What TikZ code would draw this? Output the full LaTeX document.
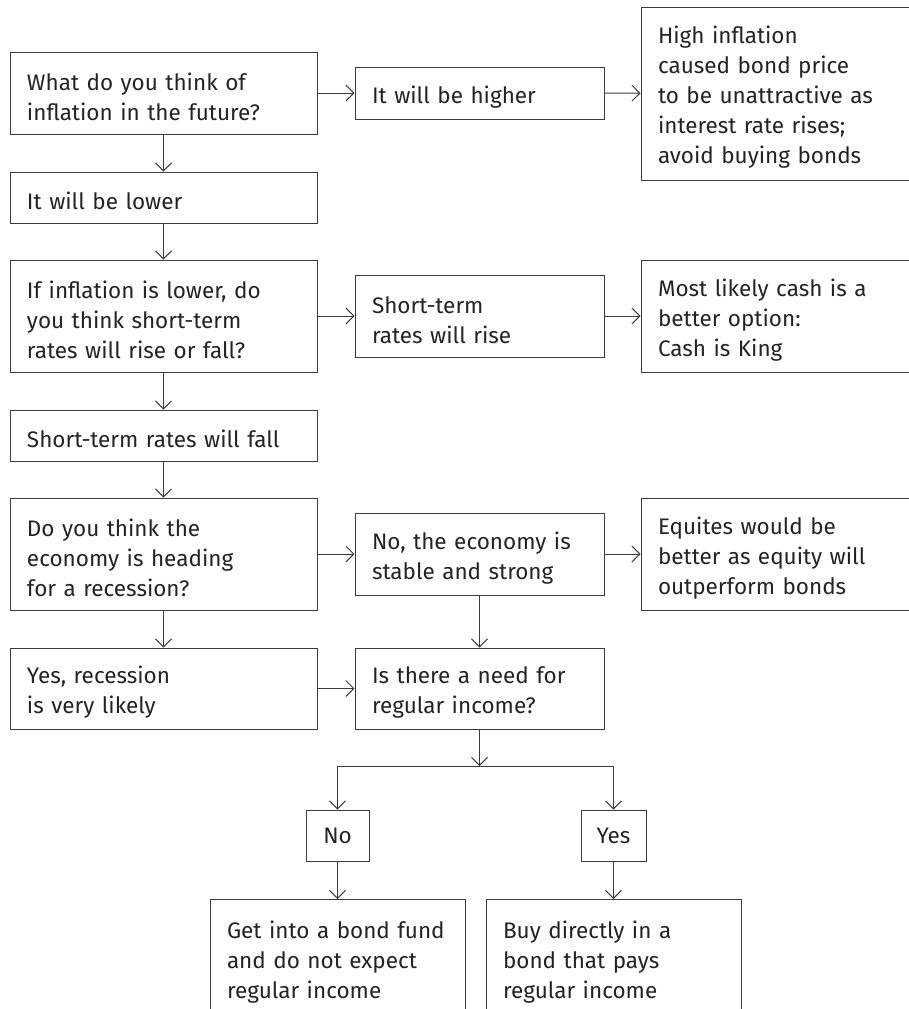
\documentclass[tikz,border=0pt]{standalone}
\usepackage{fontspec}
\setmainfont{Fira Sans}
\usetikzlibrary{arrows.meta, positioning, calc}
\definecolor{boxline}{RGB}{60,60,60}
\definecolor{boxtext}{RGB}{35,35,35}

\begin{document}
\begin{tikzpicture}[
    x=1pt, y=-1pt,
    box/.style={rectangle, draw=boxline, line width=1pt, text=boxtext,
                font=\fontsize{22.5}{30}\selectfont, align=left,
                inner xsep=17pt, inner ysep=0pt, text width=#1,
                execute at begin node={\rule{0pt}{25pt}}},
    small/.style={rectangle, draw=boxline, line width=1pt, text=boxtext,
                font=\fontsize{22.5}{30}\selectfont, align=center},
    arr/.style={draw=boxline, line width=1pt,
                -{Straight Barb[length=8pt, width=16pt, line width=0.9pt]}}
]
    \useasboundingbox (0,0) rectangle (909,1009);

    % Left column: the questions
    \node[box=273pt, minimum height=82pt] (future) at (163.5,93)
        {What do you think of\\inflation in the future?};
    \node[box=273pt, minimum height=51pt] (lower) at (163.5,197.5)
        {It will be lower};
    \node[box=273pt, minimum height=112pt] (shortq) at (163.5,316)
        {If inflation is lower, do\\you think short-term\\rates will rise or fall?};
    \node[box=273pt, minimum height=51pt] (fall) at (163.5,435.5)
        {Short-term rates will fall};
    \node[box=273pt, minimum height=112pt] (recq) at (163.5,554)
        {Do you think the\\economy is heading\\for a recession?};
    \node[box=273pt, minimum height=81pt] (recyes) at (163.5,688.5)
        {Yes, recession\\is very likely};

    % Middle column
    \node[box=215pt, minimum height=52pt] (higher) at (479.5,93)
        {It will be higher};
    \node[box=215pt, minimum height=82pt] (rise) at (479.5,316)
        {Short-term\\rates will rise};
    \node[box=215pt, minimum height=82pt] (stable) at (479.5,554)
        {No, the economy is\\stable and strong};
    \node[box=215pt, minimum height=81pt] (income) at (479.5,688.5)
        {Is there a need for\\regular income?};

    % Right column: outcomes (cut by the page edge)
    \node[box=285pt, minimum height=173pt] (avoid) at (800.5,93.5)
        {High inflation\\caused bond price\\to be unattractive as\\interest rate rises;\\avoid buying bonds};
    \node[box=285pt, minimum height=112pt] (cash) at (800.5,316)
        {Most likely cash is a\\better option:\\Cash is King};
    \node[box=285pt, minimum height=112pt] (equity) at (800.5,554)
        {Equites would be\\better as equity will\\outperform bonds};

    % Income branch
    \coordinate (split) at (479.5,766);
    \node[small, minimum width=63pt, minimum height=51pt] (no) at (337.5,835.5) {No};
    \node[small, minimum width=65pt, minimum height=51pt] (yes) at (613.5,835.5) {Yes};
    \node[box=221pt, anchor=north, inner ysep=14pt] (fund) at (337.5,899)
        {Get into a bond fund\\and do not expect\\regular income};
    \node[box=221pt, anchor=north, inner ysep=14pt] (direct) at (613.5,899)
        {Buy directly in a\\bond that pays\\regular income};

    % Connectors
    \draw[arr] (future) -- (higher);
    \draw[arr] (higher) -- (avoid);
    \draw[arr] (future) -- (lower);
    \draw[arr] (lower) -- (shortq);
    \draw[arr] (shortq) -- (rise);
    \draw[arr] (rise) -- (cash);
    \draw[arr] (shortq) -- (fall);
    \draw[arr] (fall) -- (recq);
    \draw[arr] (recq) -- (stable);
    \draw[arr] (stable) -- (equity);
    \draw[arr] (recq) -- (recyes);
    \draw[arr] (stable) -- (income);
    \draw[arr] (recyes) -- (income);
    \draw[arr] (income) -- (split);
    \draw[arr] (split) -| (no);
    \draw[arr] (split) -| (yes);
    \draw[arr] (no) -- (fund);
    \draw[arr] (yes) -- (direct);
\end{tikzpicture}
\end{document}
